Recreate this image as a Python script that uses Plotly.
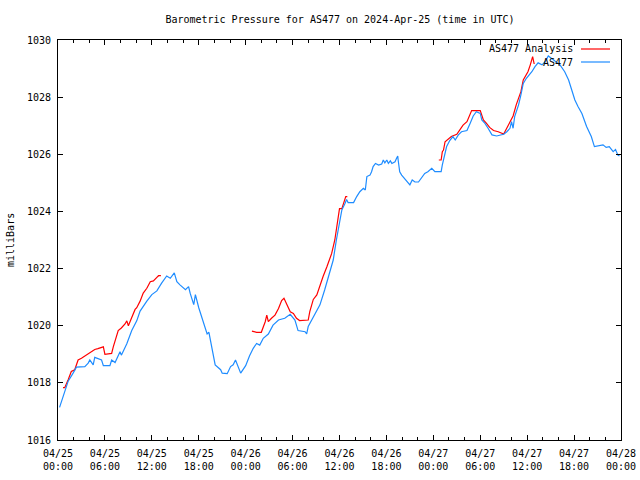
import plotly.graph_objects as go

# ---- data (hours since 2024-04-25 00:00 UTC, pressure in mbar) ----
blue_hours = [0.2, 0.86, 1.3, 1.93, 2.36, 3.43, 3.86, 4.07, 4.5, 4.7, 5.57, 5.8, 6.64, 6.86, 7.3, 7.93, 8.1, 8.8,
              9.43, 10.07, 10.5, 11.36, 12.0, 12.64, 12.95, 13.25, 13.9, 14.36, 14.87, 15.2, 15.6, 16.3, 16.7,
              16.9, 17.36, 17.57, 18.0, 18.64, 19.07, 19.3, 19.7, 20.1, 20.8, 21.0, 21.64, 22.07, 22.4, 22.7,
              23.36, 24.0, 24.5, 24.97, 25.4, 25.8, 26.25, 26.9, 27.5, 28.2, 29.0, 29.7, 30.3, 30.7, 31.6, 31.8,
              32.0, 32.65, 33.5, 34.1, 34.6, 35.2, 35.6, 36.0, 36.3, 36.7, 36.9, 37.1, 37.8, 38.2, 38.6, 39.05,
              39.3, 39.5, 39.9, 40.1, 40.3, 40.6, 41.0, 41.4, 41.6, 41.8, 42.05, 42.25, 42.5, 42.7, 43.1, 43.3,
              43.45, 43.5, 43.7, 43.95, 44.4, 44.8, 45.0, 45.3, 45.65, 46.1, 46.5, 46.9, 47.3, 47.8, 48.2, 49.0,
              49.15, 49.5, 49.7, 50.1, 50.5, 50.8, 51.2, 51.6, 52.3, 52.7, 53.1, 53.5, 54.0, 54.2, 54.6, 55.0,
              55.5, 56.1, 56.7, 57.0, 57.4, 57.8, 58.0, 58.2, 58.4, 58.9, 59.2, 59.5, 59.9, 60.6, 61.0, 61.4,
              61.9, 62.3, 62.7, 63.1, 63.6, 64.2, 64.8, 65.3, 65.7, 66.1, 66.5, 67.0, 67.6, 68.2, 68.6, 69.1,
              69.7, 70.1, 70.5, 71.0, 71.3, 71.6, 71.8]
blue_values = [1017.14, 1017.66, 1018.06, 1018.34, 1018.55, 1018.57, 1018.69, 1018.8, 1018.63, 1018.89, 1018.8,
               1018.6, 1018.6, 1018.8, 1018.71, 1019.09, 1018.97, 1019.37, 1019.83, 1020.17, 1020.51, 1020.86,
               1021.09, 1021.22, 1021.37, 1021.49, 1021.74, 1021.66, 1021.85, 1021.54, 1021.43, 1021.26, 1021.37,
               1021.14, 1020.74, 1021.09, 1020.63, 1020.06, 1019.71, 1019.77, 1019.26, 1018.63, 1018.46, 1018.34,
               1018.32, 1018.57, 1018.63, 1018.8, 1018.34, 1018.6, 1018.95, 1019.21, 1019.38, 1019.32, 1019.56,
               1019.71, 1020.02, 1020.2, 1020.26, 1020.4, 1020.2, 1019.83, 1019.79, 1019.71, 1019.97, 1020.31,
               1020.73, 1021.25, 1021.72, 1022.3, 1023.0, 1023.58, 1024.05, 1024.28, 1024.42, 1024.31, 1024.31,
               1024.52, 1024.69, 1024.81, 1024.75, 1025.22, 1025.27, 1025.39, 1025.57, 1025.68, 1025.62, 1025.66,
               1025.8, 1025.7, 1025.8, 1025.68, 1025.77, 1025.68, 1025.74, 1025.86, 1025.94, 1025.8, 1025.39,
               1025.27, 1025.12, 1024.98, 1024.93, 1025.1, 1025.03, 1025.03, 1025.16, 1025.33, 1025.39, 1025.51,
               1025.39, 1025.39, 1025.63, 1026.09, 1026.27, 1026.48, 1026.62, 1026.5, 1026.68, 1026.79, 1026.83,
               1027.08, 1027.34, 1027.49, 1027.43, 1027.2, 1027.08, 1026.91, 1026.68, 1026.64, 1026.68, 1026.7,
               1026.79, 1026.91, 1027.14, 1026.91, 1027.32, 1027.73, 1028.08, 1028.48, 1028.66, 1028.89, 1029.07,
               1029.2, 1029.13, 1029.24, 1029.44, 1029.36, 1029.24, 1029.13, 1028.89, 1028.6, 1028.25, 1027.9,
               1027.67, 1027.43, 1026.97, 1026.62, 1026.27, 1026.29, 1026.33, 1026.24, 1026.27, 1026.09, 1026.17,
               1025.97, 1025.94]

red_hours = [0.64, 0.86, 1.3, 1.7, 2.14, 2.57, 3.0, 3.86, 4.3, 4.7, 5.1, 5.57, 5.8, 6.0, 6.86, 7.07, 7.5, 7.7,
             8.1, 8.57, 8.8, 9.0, 9.43, 9.86, 10.07, 10.5, 10.9, 11.36, 11.8, 12.2, 12.64, 12.86, 13.16,
             None,
             24.8, 25.4, 26.0, 26.5, 26.7, 26.9, 27.3, 27.75, 28.2, 28.6, 28.9, 29.2, 29.7, 30.1, 30.5, 30.9,
             31.35, 32.0, 32.2, 32.65, 33.1, 33.5, 33.9, 34.4, 34.8, 35.0, 35.4, 35.7, 36.0, 36.3, 36.6, 36.8,
             37.0,
             None,
             48.7, 49.0, 49.15, 49.3, 49.5, 49.9, 50.3, 51.0, 51.4, 51.8, 52.3, 52.7, 52.9, 54.0, 54.4, 54.8,
             55.2, 55.7, 56.3, 57.0, 57.4, 57.8, 58.2, 58.6, 58.9, 59.2, 59.5, 59.85, 60.1, 60.4, 60.7, 60.9]
red_values = [1017.83, 1017.83, 1018.11, 1018.4, 1018.46, 1018.8, 1018.86, 1019.03, 1019.09, 1019.17, 1019.2,
              1019.23, 1019.26, 1019.0, 1019.03, 1019.26, 1019.6, 1019.83, 1019.92, 1020.06, 1020.17, 1020.0,
              1020.29, 1020.57, 1020.63, 1020.86, 1021.14, 1021.31, 1021.54, 1021.57, 1021.69, 1021.75, 1021.75,
              None,
              1019.81, 1019.77, 1019.77, 1020.14, 1020.37, 1020.14, 1020.26, 1020.37, 1020.6, 1020.88, 1020.96,
              1020.78, 1020.49, 1020.43, 1020.26, 1020.18, 1020.18, 1020.2, 1020.49, 1020.92, 1021.08, 1021.42,
              1021.72, 1022.07, 1022.42, 1022.53, 1023.0, 1023.64, 1024.1, 1024.1, 1024.4, 1024.52, 1024.52,
              None,
              1025.8, 1025.8, 1026.09, 1026.15, 1026.44, 1026.52, 1026.62, 1026.7, 1026.87, 1027.02, 1027.14,
              1027.38, 1027.53, 1027.53, 1027.2, 1027.08, 1026.94, 1026.83, 1026.79, 1026.71, 1026.91, 1027.14,
              1027.34, 1027.73, 1027.96, 1028.19, 1028.6, 1028.78, 1028.89, 1029.13, 1029.42, 1029.16]

x_tick_hours = [0, 6, 12, 18, 24, 30, 36, 42, 48, 54, 60, 66, 72]
x_tick_labels = ["04/25<br>00:00", "04/25<br>06:00", "04/25<br>12:00", "04/25<br>18:00",
                 "04/26<br>00:00", "04/26<br>06:00", "04/26<br>12:00", "04/26<br>18:00",
                 "04/27<br>00:00", "04/27<br>06:00", "04/27<br>12:00", "04/27<br>18:00",
                 "04/28<br>00:00"]
y_ticks = [1016, 1018, 1020, 1022, 1024, 1026, 1028, 1030]

title_text = "Barometric Pressure for AS477 on 2024-Apr-25 (time in UTC)"
y_title = "milliBars"
legend_names = ["AS477 Analysis", "AS477"]

RED = "#ff0000"
BLUE = "#1e8cff"
FONT = "DejaVu Sans Mono"

W, H = 640, 480
L, R, T, B = 58, 19, 40, 40
pw, ph = W - L - R, H - T - B

fig = go.Figure()
fig.add_trace(go.Scatter(x=red_hours, y=red_values, mode="lines", name=legend_names[0],
                         line=dict(color=RED, width=1.2), connectgaps=False))
fig.add_trace(go.Scatter(x=blue_hours, y=blue_values, mode="lines", name=legend_names[1],
                         line=dict(color=BLUE, width=1.2)))

axis_common = dict(showline=True, linecolor="black", linewidth=1, mirror="ticks",
                   ticks="inside", ticklen=5, tickcolor="black", showgrid=False, zeroline=False,
                   automargin=False,
                   tickfont=dict(family=FONT, size=10, color="black"))

fig.update_xaxes(range=[0, 72], tickmode="array", tickvals=x_tick_hours, ticktext=x_tick_labels,
                 minor=dict(dtick=2, tick0=0, ticks="inside", ticklen=3, tickcolor="black", showgrid=False),
                 ticklabelstandoff=4, **axis_common)
fig.update_yaxes(range=[1016, 1030], tickmode="array", tickvals=y_ticks, ticktext=[str(v) for v in y_ticks],
                 ticklabelstandoff=4, **axis_common)

# legend drawn gnuplot-style: text then sample line on the right
legend_rows_y = [49, 62]
legend_colors = [RED, BLUE]
for name, yy, col in zip(legend_names, legend_rows_y, legend_colors):
    fig.add_annotation(x=(575 - L) / pw, y=1 - (yy - T) / ph, xref="paper", yref="paper",
                       text=name, showarrow=False, xanchor="right", yanchor="middle",
                       font=dict(family=FONT, size=10, color="black"), bgcolor="rgba(0,0,0,0)")
    fig.add_shape(type="line", xref="paper", yref="paper",
                  x0=(581 - L) / pw, x1=(610 - L) / pw,
                  y0=1 - (yy - T) / ph, y1=1 - (yy - T) / ph,
                  line=dict(color=col, width=1.2))

fig.add_annotation(x=(10 - L) / pw, y=0.5, xref="paper", yref="paper", text=y_title, textangle=-90,
                   showarrow=False, xanchor="center", yanchor="middle",
                   font=dict(family=FONT, size=10, color="black"))

fig.update_layout(
    width=W, height=H, margin=dict(l=L, r=R, t=T, b=B, autoexpand=False),
    paper_bgcolor="white", plot_bgcolor="white", showlegend=False,
    title=dict(text=title_text, x=(340 - 0) / W, xanchor="center", y=1 - 19 / H, yanchor="middle",
               automargin=False, font=dict(family=FONT, size=10, color="black")),
)

fig.write_html("out.html", config={"displayModeBar": False},
               post_script="document.body.style.margin='0';document.body.style.overflow='hidden';")
